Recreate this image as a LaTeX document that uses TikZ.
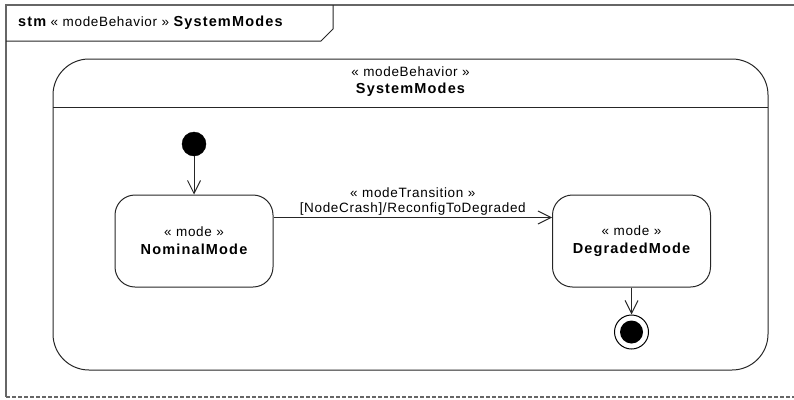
\documentclass[tikz,border=0pt]{standalone}
\usepackage{fontspec}
\setmainfont{Liberation Sans}[LetterSpace=5,BoldFeatures={LetterSpace=8}]
\usetikzlibrary{arrows.meta,calc}
\newcommand\bx[1]{{\fontsize{14.5}{18}\selectfont\bfseries #1}}
\tikzset{
  line/.style={draw=black!85, line width=1pt},
  framegray/.style={draw=black!60, line width=1.2pt},
  modestate/.style={line, rectangle, rounded corners=20pt, minimum width=158pt, minimum height=92pt, inner sep=0pt, align=center, font=\fontsize{13.5}{18}\selectfont},
  lbl/.style={inner sep=0pt, align=center, font=\fontsize{13.5}{15}\selectfont},
  trans/.style={line, -{Straight Barb[length=13pt,width=13pt,line width=1pt]}},
}
\begin{document}
\begin{tikzpicture}[x=1pt,y=-1pt]
\useasboundingbox (0,0) rectangle (794,399);
% frame
\coordinate (ftl) at (6,5);
\coordinate (ftr) at (794,5);
\coordinate (fbl) at (6,397);
\coordinate (fbr) at (794,397);
\draw[framegray] (ftr) -- (ftl) -- (fbl);
\draw[framegray, dashed, dash pattern=on 4pt off 2pt] (fbl) -- (fbr);
% tab
\draw[line] (6,41) -- (321,41) -- (333,29) -- (333,5);
\node[lbl, anchor=west] (title) at (18,23) {\bx{stm} « modeBehavior » \bx{SystemModes}};
% composite state
\node[line, rectangle, rounded corners=36pt, minimum width=715pt, minimum height=311pt, inner sep=0pt] (sys) at (410.5,214.5) {};
\coordinate (sepL) at (53,107);
\coordinate (sepR) at (768,107);
\draw[line] (sepL) -- (sepR);
\node[lbl] (sysname) at (410.5,82) {« modeBehavior »\\[2pt]\bx{SystemModes}};
% initial
\node[circle, fill=black, draw=black, minimum size=24pt, inner sep=0pt] (init) at (194,144) {};
% states
\node[modestate] (nom) at (194,241) {« mode »\\\bx{NominalMode}};
\node[modestate] (deg) at (631.5,241) {« mode »\\\bx{DegradedMode}};
% final
\node[circle, draw=black, line width=1pt, fill=white, minimum size=34pt, inner sep=0pt] (fin) at (631.5,332) {};
\node[circle, fill=black, minimum size=23pt, inner sep=0pt] (finin) at (fin) {};
% transitions
\coordinate (tA) at ($(nom.north east)+(0,23)$);
\coordinate (tB) at ($(deg.north west)+(0,23)$);
\draw[trans] (init) -- (nom);
\draw[trans] (tA) -- (tB) node[midway, above=2pt, lbl] (tlabel) {« modeTransition »\\[0pt][NodeCrash]/ReconfigToDegraded};
\draw[trans] (deg) -- (fin);
\end{tikzpicture}
\end{document}
